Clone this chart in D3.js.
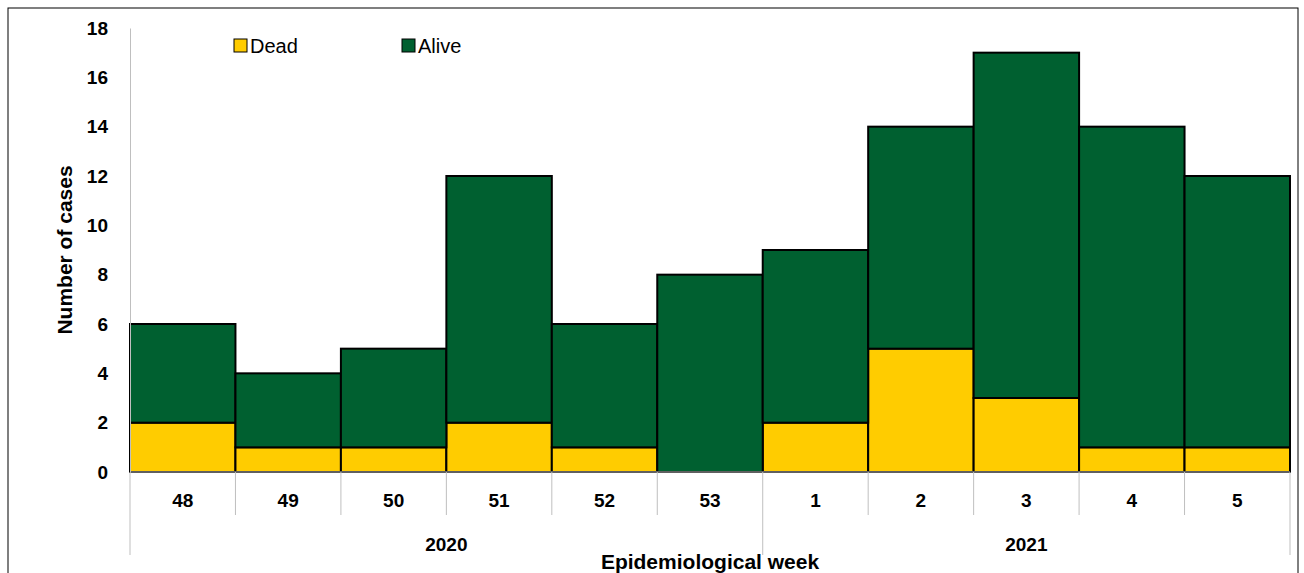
<!DOCTYPE html>
<html><head><meta charset="utf-8">
<script src="https://cdn.jsdelivr.net/npm/d3@7"></script>
<style>body{margin:0;background:#fff;font-family:Arial,"Liberation Sans",sans-serif}</style>
</head><body><svg id="c" width="1304" height="573"></svg>
<script>
const weeks = ["48", "49", "50", "51", "52", "53", "1", "2", "3", "4", "5"];
const years = ["2020", "2020", "2020", "2020", "2020", "2020", "2021", "2021", "2021", "2021", "2021"];
const dead = [2, 1, 1, 2, 1, 0, 2, 5, 3, 1, 1];
const alive = [4, 3, 4, 10, 5, 8, 7, 9, 14, 13, 11];
const yTicks = [0, 2, 4, 6, 8, 10, 12, 14, 16, 18];

const svg = d3.select("#c");
svg.append("rect").attr("x", 8).attr("y", 8).attr("width", 1290).attr("height", 580)
  .attr("fill", "none").attr("stroke", "#000").attr("stroke-width", 1);

const pLeft = 130, pRight = 1290, pTop = 28, pBottom = 472;
const x = d3.scaleBand().domain(d3.range(weeks.length)).range([pLeft, pRight]);
const y = d3.scaleLinear().domain([0, 18]).range([pBottom, pTop]);

const rows = weeks.map((w, i) => ({ i, dead: dead[i], alive: alive[i] }));
const stack = d3.stack().keys(["dead", "alive"])(rows);
const colors = { dead: "#FFCC00", alive: "#006030" };

svg.append("g").selectAll("g").data(stack).join("g")
  .attr("fill", d => colors[d.key])
  .selectAll("rect").data(d => d).join("rect")
  .attr("x", d => x(d.data.i)).attr("width", x.bandwidth())
  .attr("y", d => y(d[1])).attr("height", d => y(d[0]) - y(d[1]))
  .attr("stroke", "#000").attr("stroke-width", 2);

// y axis
const ya = svg.append("g").attr("transform", `translate(${pLeft},0)`)
  .call(d3.axisLeft(y).tickValues(yTicks).tickSize(0).tickPadding(22));
ya.select(".domain").attr("stroke", "#bfbfbf");
ya.selectAll("text").attr("font-size", 19).attr("font-weight", "bold")
  .attr("font-family", "Arial, Liberation Sans, sans-serif").attr("fill", "#000");

// x axis: baseline, category labels, separators
const xa = svg.append("g");
xa.append("line").attr("x1", pLeft).attr("x2", pRight).attr("y1", pBottom).attr("y2", pBottom)
  .attr("stroke", "#bfbfbf");
xa.selectAll("line.sep").data(d3.range(weeks.length + 1)).join("line")
  .attr("x1", i => i < weeks.length ? x(i) : pRight).attr("x2", i => i < weeks.length ? x(i) : pRight)
  .attr("y1", pBottom)
  .attr("y2", i => (i === 0 || i === 6 || i === weeks.length) ? 555 : 515)
  .attr("stroke", "#bfbfbf");
xa.selectAll("text.wk").data(weeks).join("text")
  .attr("x", (d, i) => x(i) + x.bandwidth() / 2).attr("y", 507)
  .attr("text-anchor", "middle").attr("font-size", 19).attr("font-weight", "bold").text(d => d);
const yrs = Array.from(new Set(years));
xa.selectAll("text.yr").data(yrs).join("text")
  .attr("x", yr => {
    const idx = years.map((v, i) => v === yr ? i : -1).filter(i => i >= 0);
    return (x(idx[0]) + x(idx[idx.length - 1]) + x.bandwidth()) / 2;
  })
  .attr("y", 551).attr("text-anchor", "middle").attr("font-size", 19).attr("font-weight", "bold")
  .text(d => d);

svg.append("text").attr("x", (pLeft + pRight) / 2).attr("y", 569).attr("text-anchor", "middle")
  .attr("font-size", 21).attr("font-weight", "bold").text("Epidemiological week");
svg.append("text").attr("transform", `translate(72,${(pTop + pBottom) / 2}) rotate(-90)`)
  .attr("text-anchor", "middle").attr("font-size", 21).attr("font-weight", "bold").text("Number of cases");

// legend
const lg = [["Dead", colors.dead, 234], ["Alive", colors.alive, 402]];
lg.forEach(([t, c, lx]) => {
  svg.append("rect").attr("x", lx).attr("y", 39).attr("width", 13).attr("height", 13)
    .attr("fill", c).attr("stroke", "#000").attr("stroke-width", 1);
  svg.append("text").attr("x", lx + 16).attr("y", 53).attr("font-size", 20).text(t);
});
</script></body></html>
